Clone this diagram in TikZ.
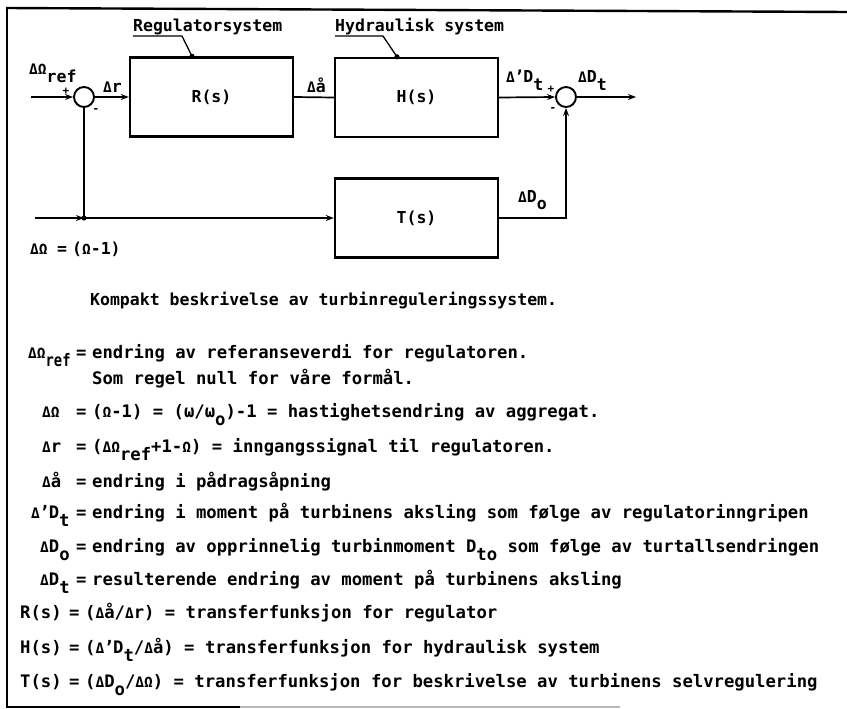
\documentclass[tikz,border=0pt]{standalone}
\usepackage{fontspec}
\setmainfont{DejaVu Sans Mono}
\usetikzlibrary{arrows.meta}
\newcommand\lo[1]{\raisebox{-0.48em}{#1}}
\newcommand\lref{\raisebox{-0.48em}{\scalebox{0.8}[1]{ref}}}
\newcommand\sD{{\fontsize{14.5}{14.5}\selectfont Δ}}
\newcommand\sO{{\fontsize{14.5}{14.5}\selectfont Ω}}
\newcommand\pr{\kern-0.5pt'\kern-1pt}
\begin{document}
\begin{tikzpicture}[x=1pt,y=-1pt,
  tw/.style={font=\fontsize{16.5}{18}\selectfont\bfseries, inner sep=0pt, anchor=base west},
  tl/.style={font=\fontsize{17.25}{19}\selectfont\bfseries, inner sep=0pt, anchor=base west},
  tc/.style={font=\fontsize{11}{12}\selectfont\bfseries, inner sep=0pt},
  blk/.style={draw, line width=2.4pt, minimum width=163pt, minimum height=79pt, inner sep=0pt,
              font=\fontsize{16.5}{18}\selectfont\bfseries},
  sumc/.style={draw, circle, line width=1.9pt, minimum size=20pt, inner sep=0pt},
  wire/.style={line width=1.7pt},
  lead/.style={line width=1.3pt},
  arr/.style={wire, -{Stealth[length=8pt,width=6pt]}},
  frame/.style={line width=2.4pt}
]
\useasboundingbox (0,0) rectangle (847,709);
% frame
\draw[frame] (7,7) -- (7,707);
\draw[frame] (6,8) -- (847,12);
\draw[frame] (6,707) -- (240,707);
\draw[line width=1.4pt, gray!55] (240,707) -- (620,707);

% blocks
\node[blk] (R) at (211.5,97) {R(s)};
\node[blk] (H) at (416.5,97.5) {H(s)};
\node[blk] (T) at (416.5,218) {T(s)};
\node[sumc] (S1) at (84,97) {};
\node[sumc] (S2) at (566,97) {};

% wires
\coordinate (in1) at (31,97);
\coordinate (out) at (636,97);
\coordinate (in2) at (35,218);
\coordinate (J) at (84,218);
\draw[arr] (in1) -- (S1.west);
\draw[arr] (S1.east) -- (R.west);
\draw[wire] (R.east) -- (H.west);
\draw[arr] (H.east) -- (S2.west);
\draw[arr] (S2.east) -- (out);
\draw[arr] (in2) -- (J);
\draw[wire] (J) -- (S1.south);
\draw[arr] (J) -- (J -| T.west);
\fill (J) circle (2.6);
\draw[arr] (T.east) -| (S2.south);

% callouts
\node[tw] (regl) at (133,32) {Regulatorsystem};
\node[tw] (hydl) at (335,32) {Hydraulisk system};
\coordinate (rdot) at ([xshift=-19.5pt]R.north);
\coordinate (hdot) at ([xshift=-19.5pt]H.north);
\draw[lead] ([yshift=-4pt]regl.base west) -- ++(49,0) -- (rdot);
\draw[lead] ([yshift=-4pt]hydl.base west) -- ++(48,0) -- (hdot);
\fill (rdot) circle (2.6);
\fill (hdot) circle (2.6);

% diagram labels
\node[tw] (lref) at (29,75) {\sD\sO\lo{ref}};
\node[tc] (p1) at (66,91) {+};
\node[tc] (m1) at (96,111) {-};
\node[tw] (ldr) at (103,93) {\sD r};
\node[tw] (lda) at (307,93) {\sD å};
\node[tw] (ldt1) at (506,83) {\sD\pr D\lo{t}};
\node[tc] (p2) at (551,89) {+};
\node[tc] (m2) at (553,110) {-};
\node[tw] (ldt2) at (578,83) {\sD D\lo{t}};
\node[tw] (ldo) at (518,202) {\sD D\lo{o}};
\node[tw] (lom) at (30,254) {\sD\sO};
\node[tw] (lomeq) at (57,254) {=};
\node[tw] (lomv) at (72,254) {(\sO-1)};

% caption
\node[tw] (cap) at (90,305) {Kompakt beskrivelse av turbinreguleringssystem.};

% legend
\node[tl] (a1) at (28,358) {\sD\sO\lref};
\node[tl] (e1) at (76,358) {=};
\node[tl] (t1) at (92,358) {endring av referanseverdi for regulatoren.};
\node[tl] (t1b) at (92,384) {Som regel null for våre formål.};

\node[tl] (a2) at (42,417) {\sD\sO};
\node[tl] (e2) at (76,417) {=};
\node[tl] (t2) at (92,417) {(\sO-1) = (ω/ω\lo{o})-1 = hastighetsendring av aggregat.};

\node[tl] (a3) at (42,452) {\sD r};
\node[tl] (e3) at (76,452) {=};
\node[tl] (t3) at (92,452) {(\sD\sO\lo{ref}+1-\sO) = inngangssignal til regulatoren.};

\node[tl] (a4) at (42,487) {\sD å};
\node[tl] (e4) at (76,487) {=};
\node[tl] (t4) at (92,487) {endring i pådragsåpning};

\node[tl] (a5) at (31,518) {\sD\pr D\lo{t}};
\node[tl] (e5) at (76,518) {=};
\node[tl] (t5) at (92,518) {endring i moment på turbinens aksling som følge av regulatorinngripen};

\node[tl] (a6) at (40,552) {\sD D\lo{o}};
\node[tl] (e6) at (76,552) {=};
\node[tl] (t6) at (92,552) {endring av opprinnelig turbinmoment D\lo{to} som følge av turtallsendringen};

\node[tl] (a7) at (40,585) {\sD D\lo{t}};
\node[tl] (e7) at (76,585) {=};
\node[tl] (t7) at (92,585) {resulterende endring av moment på turbinens aksling};

\node[tl] (a8) at (20,618) {R(s)};
\node[tl] (e8) at (69,618) {=};
\node[tl] (t8) at (85,618) {(\sD å/\sD r) = transferfunksjon for regulator};

\node[tl] (a9) at (20,653) {H(s)};
\node[tl] (e9) at (69,653) {=};
\node[tl] (t9) at (85,653) {(\sD\pr D\lo{t}/\sD å) = transferfunksjon for hydraulisk system};

\node[tl] (a10) at (20,687) {T(s)};
\node[tl] (e10) at (69,687) {=};
\node[tl] (t10) at (85,687) {(\sD D\lo{o}/\sD\sO) = transferfunksjon for beskrivelse av turbinens selvregulering};
\end{tikzpicture}
\end{document}
